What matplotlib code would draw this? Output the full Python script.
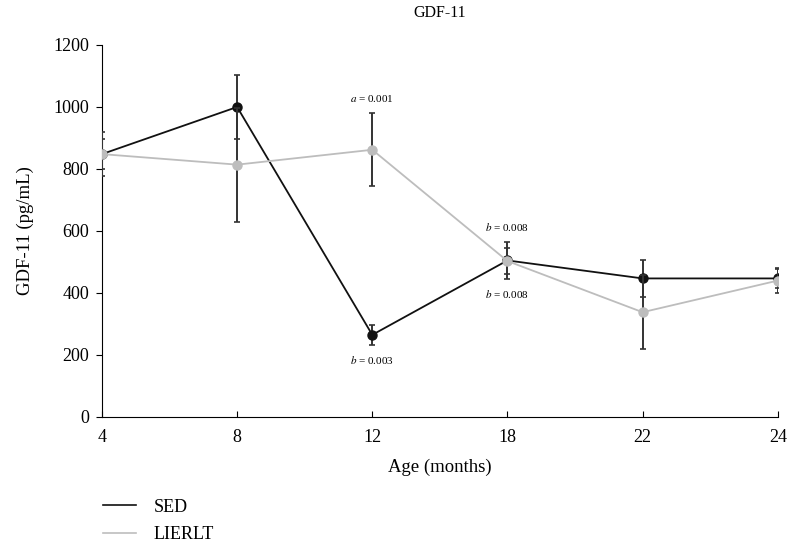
import matplotlib
matplotlib.use("Agg")
import matplotlib.pyplot as plt
from matplotlib.lines import Line2D
import numpy as np

plt.rcParams['font.family'] = ['Liberation Serif', 'DejaVu Serif']
plt.rcParams['mathtext.fontset'] = 'stix'

ages = ['4', '8', '12', '18', '22', '24']
sed = [848, 1000, 265, 505, 447, 447]
sed_err = [70, 103, 33, 60, 61, 30]
lierlt = [848, 814, 862, 503, 338, 440]
lierlt_err = [48, 184, 118, 42, 120, 40]

x = np.arange(len(ages))

fig = plt.figure(figsize=(7.88, 5.54), dpi=100)
ax = fig.add_axes([0.1294, 0.2473, 0.8576, 0.6715])

ax.errorbar(x, sed, yerr=sed_err, color='#111111', lw=1.3, marker='o', ms=6.5,
            ecolor='#333333', elinewidth=1.4, capsize=2.5, capthick=1.2,
            label='SED', zorder=3)
ax.errorbar(x, lierlt, yerr=lierlt_err, color='#bdbdbd', lw=1.3, marker='o', ms=6.5,
            ecolor='#333333', elinewidth=1.4, capsize=2.5, capthick=1.2,
            label='LIERLT', zorder=4)

# significance labels
ax.text(x[2], lierlt[2] + lierlt_err[2] + 30, r'$a$ = 0.001', ha='center', va='bottom', fontsize=8)
ax.text(x[2], sed[2] - sed_err[2] - 30, r'$b$ = 0.003', ha='center', va='top', fontsize=8)
ax.text(x[3], sed[3] + sed_err[3] + 30, r'$b$ = 0.008', ha='center', va='bottom', fontsize=8)
ax.text(x[3], sed[3] - sed_err[3] - 30, r'$b$ = 0.008', ha='center', va='top', fontsize=8)

ax.set_xlim(0, len(ages) - 1)
ax.set_ylim(0, 1200)
ax.set_xticks(x)
ax.set_xticklabels(ages)
ax.set_yticks(np.arange(0, 1201, 200))
ax.tick_params(axis='x', direction='in', length=4, labelsize=13, pad=9)
ax.tick_params(axis='y', direction='out', length=4, labelsize=13, pad=5)
for s in ['top', 'right']:
    ax.spines[s].set_visible(False)
ax.set_xlabel('Age (months)', fontsize=13.5, labelpad=9)
ax.set_ylabel('GDF-11 (pg/mL)', fontsize=13.5, labelpad=14)
ax.set_title('GDF-11', fontsize=11.5, pad=20)

h = [Line2D([], [], color='#111111', lw=1.2), Line2D([], [], color='#bdbdbd', lw=1.2)]
fig.legend(h, ['SED', 'LIERLT'], loc='upper left', bbox_to_anchor=(0.122, 0.113),
           frameon=False, fontsize=13, handlelength=1.8, handletextpad=1.0,
           labelspacing=0.6, borderaxespad=0)

fig.savefig('out.png', dpi=100)
